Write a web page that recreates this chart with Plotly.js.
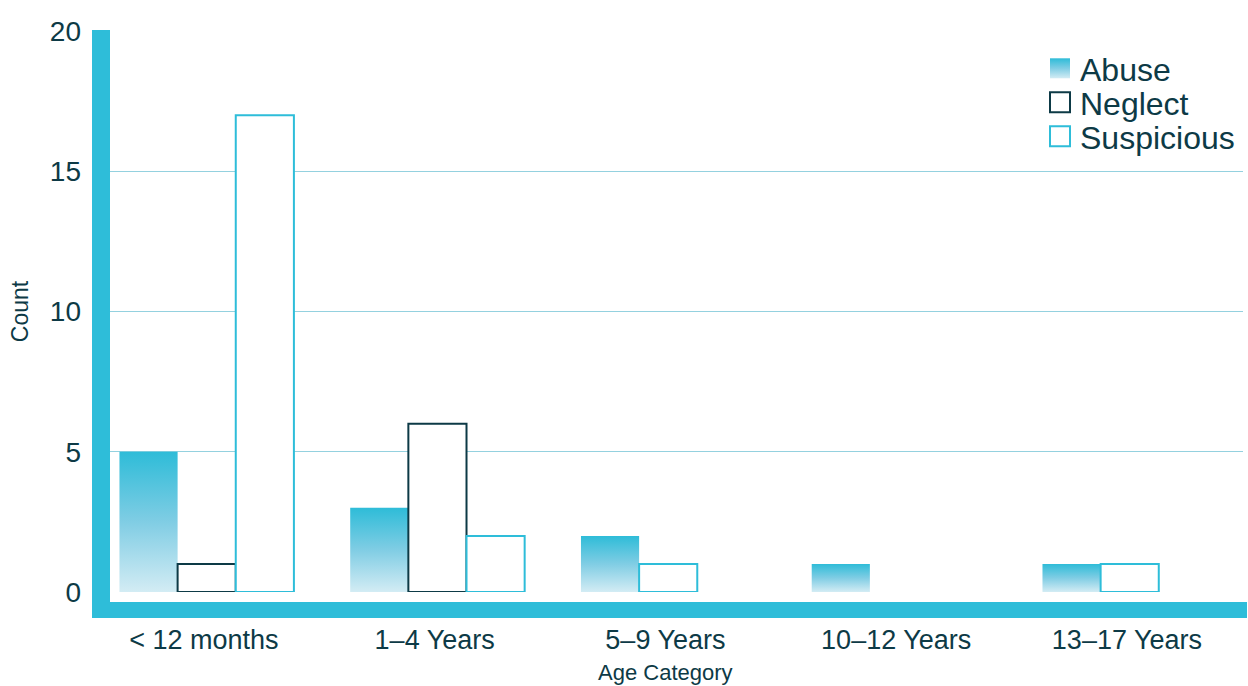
<!DOCTYPE html>
<html><head><meta charset="utf-8">
<script src="https://cdn.plot.ly/plotly-3.0.1.min.js"></script>
<style>html,body{margin:0;padding:0;background:#fff;} #chart{width:1248px;height:686px;}</style>
</head><body><div id="chart"></div>
<script>
// ---- data ----
const categories = ["< 12 months", "1–4 Years", "5–9 Years", "10–12 Years", "13–17 Years"];
const abuse = [5, 3, 2, 1, 1];
const neglect = [1, 6, 0, 0, 0];
const suspicious = [17, 2, 1, 0, 1];
const seriesNames = ["Abuse", "Neglect", "Suspicious"];
const yTickVals = [0, 5, 10, 15, 20];
const xTitle = "Age Category";
const yTitle = "Count";

// ---- style ----
const TEAL = '#2ebdd9', DARK = '#0d3a46', GRID = '#94d1df', TEXT = '#0d3a46';
const FONT = '"Liberation Sans", Arial, Helvetica, sans-serif';
const series = [abuse, neglect, suspicious];
const BW = 0.252, START = -0.366;
const xIdx = categories.map((_, i) => i);

// bars are packed left inside each category (missing series leave no gap)
const offsets = series.map(() => []);
categories.forEach((_, i) => {
  let k = 0;
  series.forEach((s, j) => { offsets[j][i] = START + k * BW; if (s[i] > 0) k++; });
});

const markers = [
  {color: TEAL, line: {color: 'rgba(0,0,0,0)', width: 0}},
  {color: '#ffffff', line: {color: DARK, width: 2}},
  {color: '#ffffff', line: {color: TEAL, width: 2}}
];

const traces = series.map((s, j) => ({
  type: 'bar', name: seriesNames[j], x: xIdx,
  y: s.map(v => v > 0 ? v : null),
  width: BW, offset: offsets[j], marker: markers[j], hoverinfo: 'skip'
}));

const L = 110, R = 1243, T = 31, B = 592;
const pw = R - L, ph = B - T;
const px = v => (v - L) / pw, py = v => (B - v) / ph;

const layout = {
  width: 1248, height: 686,
  margin: {l: L, r: 1248 - R, t: T, b: 686 - B, pad: 0},
  paper_bgcolor: '#ffffff', plot_bgcolor: '#ffffff',
  font: {family: FONT, color: TEXT},
  barmode: 'overlay',
  showlegend: true,
  xaxis: {
    range: [-0.407, 4.503], tickmode: 'array', tickvals: xIdx, ticktext: categories,
    showgrid: false, zeroline: false, showline: false, ticks: '',
    tickfont: {size: 27, color: TEXT}, ticklabelstandoff: 29
  },
  yaxis: {
    range: [0, 20], tickmode: 'array', tickvals: yTickVals,
    showgrid: true, gridcolor: GRID, gridwidth: 1,
    zeroline: true, zerolinecolor: '#ffffff', showline: false, ticks: '',
    tickfont: {size: 28, color: TEXT}, ticklabelstandoff: 28,
    title: {text: yTitle, font: {size: 23, color: TEXT}, standoff: 14}
  },
  legend: {
    x: px(1040), y: py(41), xanchor: 'left', yanchor: 'top',
    font: {size: 32, color: TEXT}, bgcolor: 'rgba(0,0,0,0)', traceorder: 'normal'
  },
  annotations: [
    {text: xTitle, xref: 'paper', yref: 'paper', x: px(665), y: py(686),
     xanchor: 'center', yanchor: 'bottom', showarrow: false, borderpad: 0,
     font: {size: 22, color: TEXT, family: FONT}}
  ],
  shapes: [
    {type: 'rect', xref: 'paper', yref: 'paper', x0: px(92), x1: px(110), y0: py(618), y1: py(30),
     fillcolor: TEAL, line: {width: 0}, layer: 'above'},
    {type: 'rect', xref: 'paper', yref: 'paper', x0: px(92), x1: px(1247), y0: py(618), y1: py(602),
     fillcolor: TEAL, line: {width: 0}, layer: 'above'}
  ]
};

Plotly.newPlot('chart', traces, layout, {staticPlot: true, displayModeBar: false}).then(gd => {
  const ns = 'http://www.w3.org/2000/svg';
  const svg = gd.querySelector('svg.main-svg');
  let defs = svg.querySelector('defs');
  if (!defs) { defs = document.createElementNS(ns, 'defs'); svg.insertBefore(defs, svg.firstChild); }
  const lg = document.createElementNS(ns, 'linearGradient');
  lg.setAttribute('id', 'abuseGrad');
  lg.setAttribute('x1', '0'); lg.setAttribute('y1', '0');
  lg.setAttribute('x2', '0'); lg.setAttribute('y2', '1');
  [['0', '#2ebcd8'], ['0.5', '#80cde4'], ['1', '#d3ecf4']].forEach(([o, c]) => {
    const st = document.createElementNS(ns, 'stop');
    st.setAttribute('offset', o); st.setAttribute('stop-color', c);
    lg.appendChild(st);
  });
  defs.appendChild(lg);
  const barTraces = gd.querySelectorAll('.barlayer .trace');
  if (barTraces[0]) barTraces[0].querySelectorAll('path').forEach(p => { p.style.fill = 'url(#abuseGrad)'; });
  const items = gd.querySelectorAll('.legend .traces');
  let y0 = null;
  items.forEach((it, i) => {
    const p = it.querySelector('.legendpoints path');
    if (p) {
      p.setAttribute('d', 'M10,10H-10V-10H10Z');
      if (i === 0) p.style.fill = 'url(#abuseGrad)';
    }
    const tr = it.getAttribute('transform') || '';
    const m = tr.match(/translate\(\s*([-\d.]+)[ ,]+([-\d.]+)/);
    if (m) {
      if (y0 === null) y0 = parseFloat(m[2]);
      it.setAttribute('transform', `translate(${m[1]},${y0 + i * 34})`);
    }
  });
});
</script>
</body></html>
